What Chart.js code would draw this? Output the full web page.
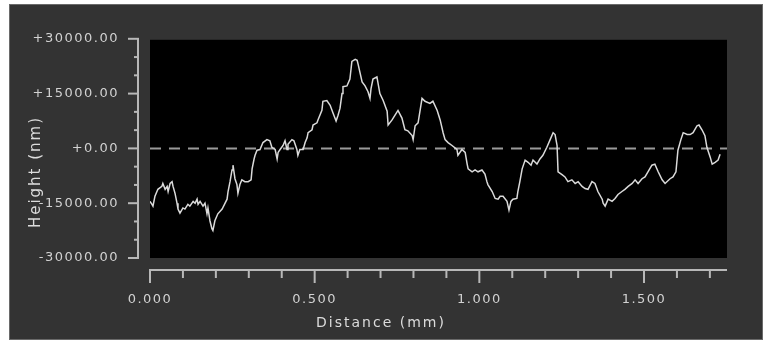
<!DOCTYPE html>
<html>
<head>
<meta charset="utf-8">
<script src="https://cdn.jsdelivr.net/npm/chart.js@4/dist/chart.umd.min.js"></script>
<style>
  html, body { margin: 0; padding: 0; background: #ffffff; }
  #wrap { position: relative; width: 769px; height: 342px; overflow: hidden; }
  #panel { position: absolute; left: 9px; top: 4px; width: 752px; height: 334px;
           background: #333333; border: 1px solid #6a6a6a; }
  canvas { position: absolute; left: 0; top: 0; }
</style>
</head>
<body>
<div id="wrap">
  <div id="panel"></div>
  <canvas id="c" width="769" height="342"></canvas>
</div>
<script>
// ---- data ----
const distanceMm = [
  0.000,0.006,0.009,0.015,0.024,0.036,0.039,0.046,0.052,0.055,0.061,0.067,0.070,0.076,0.082,0.085,0.091,0.100,0.106,0.115,
  0.121,0.131,0.137,0.143,0.146,0.152,0.161,0.167,0.173,0.176,0.182,0.188,0.191,0.197,0.206,0.219,0.228,0.234,0.237,0.243,
  0.249,0.252,0.258,0.264,0.267,0.273,0.279,0.288,0.298,0.307,0.310,0.316,0.319,0.325,0.334,0.343,0.355,0.364,0.370,0.380,
  0.386,0.389,0.395,0.404,0.410,0.416,0.419,0.431,0.437,0.446,0.449,0.455,0.465,0.471,0.477,0.480,0.492,0.495,0.507,0.510,
  0.522,0.525,0.537,0.547,0.556,0.565,0.571,0.577,0.583,0.586,0.598,0.607,0.613,0.623,0.629,0.632,0.644,0.653,0.662,0.668,
  0.671,0.677,0.689,0.698,0.708,0.720,0.723,0.735,0.744,0.753,0.765,0.774,0.783,0.796,0.799,0.805,0.814,0.826,0.835,0.850,
  0.859,0.872,0.881,0.890,0.896,0.905,0.917,0.932,0.935,0.947,0.957,0.963,0.966,0.978,0.987,0.996,1.008,1.017,1.023,1.026,
  1.039,1.048,1.057,1.063,1.072,1.084,1.090,1.096,1.102,1.114,1.117,1.123,1.130,1.139,1.148,1.157,1.163,1.175,1.184,1.193,
  1.205,1.215,1.224,1.230,1.236,1.239,1.251,1.260,1.269,1.281,1.291,1.300,1.312,1.321,1.330,1.342,1.351,1.360,1.373,1.376,
  1.382,1.391,1.403,1.412,1.421,1.433,1.442,1.452,1.464,1.473,1.482,1.494,1.503,1.512,1.524,1.533,1.543,1.555,1.564,1.579,
  1.588,1.597,1.603,1.612,1.619,1.631,1.640,1.649,1.661,1.667,1.676,1.685,1.691,1.701,1.707,1.716,1.725,1.731
];
const heightNm = [
  -14500,-15300,-15800,-13100,-11200,-10400,-9600,-11200,-10400,-11800,-9600,-9100,-10400,-12300,-15000,-16600,-17700,-16300,-16600,-15300,
  -15800,-14500,-15000,-13900,-15300,-14500,-15800,-15000,-17900,-16300,-19800,-22000,-22500,-19800,-17900,-16600,-15000,-13900,-11800,-9100,
  -5900,-4600,-8300,-9900,-12300,-9900,-8600,-9100,-9100,-8600,-5600,-2900,-1900,-500,-300,1600,2400,2100,300,-300,
  -2900,-1100,-300,800,2100,-300,1100,2400,2100,-300,-1900,-300,-300,1600,2900,4300,5100,6400,7000,7800,
  10400,12900,13100,11800,9600,7500,9100,11000,15000,16900,17100,19000,23800,24400,24100,23000,18200,17100,15500,13700,
  16300,19000,19600,15000,13100,10200,6400,7800,9100,10400,8300,5100,4800,3500,2400,6200,7000,13700,12900,12300,
  12900,10400,7800,4300,2400,1600,800,-300,-1900,-300,-1100,-4300,-5600,-6400,-5900,-6400,-5900,-7000,-9100,-9900,
  -11800,-13700,-13900,-13100,-13100,-14500,-16900,-14500,-13900,-13700,-11800,-9100,-5600,-3200,-3800,-4600,-3200,-4300,-2900,-1900,
  300,2400,4300,3800,800,-6400,-7200,-7800,-9100,-8600,-9600,-9100,-10400,-11000,-11200,-9100,-9600,-11800,-13900,-15000,
  -15800,-13900,-14500,-13700,-12600,-11800,-11200,-10400,-9600,-8600,-9600,-8300,-7800,-6400,-4600,-4300,-6400,-8600,-9600,-8300,
  -7800,-6400,-500,2400,4300,3800,3800,4300,6200,6400,5100,3500,300,-2400,-4300,-3800,-3200,-1600
];
const xMajorLabels = [0.0, 0.5, 1.0, 1.5];
const yMajorLabels = [30000, 15000, 0, -15000, -30000];
const xTitle = 'Distance (mm)';
const yTitle = 'Height (nm)';

const points = distanceMm.map((d, i) => ({ x: d, y: heightNm[i] }));

const TEXT = '#d2d2d2';
const AXIS = '#b8b8b8';
const FONT = '"DejaVu Sans", sans-serif';

function isMajor(v, step) { return Math.abs(v / step - Math.round(v / step)) < 1e-6; }

const decor = {
  id: 'decor',
  beforeDraw(chart) {
    const { ctx, chartArea: a } = chart;
    ctx.save();
    ctx.fillStyle = '#000000';
    ctx.fillRect(a.left, a.top + 1, a.right - a.left, a.bottom - a.top - 1);
    ctx.restore();
    ctx.letterSpacing = '1.5px';
  },
  beforeDatasetsDraw(chart) {
    const { ctx, chartArea: a, scales } = chart;
    const y0 = scales.y.getPixelForValue(0);
    ctx.save();
    ctx.letterSpacing = '0px';
    ctx.strokeStyle = '#9a9a9a';
    ctx.lineWidth = 2;
    ctx.setLineDash([11, 8]);
    ctx.beginPath();
    ctx.moveTo(a.left, y0);
    ctx.lineTo(a.right, y0);
    ctx.stroke();
    ctx.restore();
  },
  afterDraw(chart) {
    const { ctx, chartArea: a, scales } = chart;
    const xs = scales.x, ys = scales.y;
    ctx.save();
    ctx.strokeStyle = AXIS;
    ctx.lineWidth = 2;
    // y axis line
    const ax = a.left - 12;
    ctx.beginPath();
    ctx.moveTo(ax, ys.getPixelForValue(ys.max));
    ctx.lineTo(ax, ys.getPixelForValue(ys.min));
    ctx.stroke();
    ys.ticks.forEach(t => {
      const p = ys.getPixelForValue(t.value);
      const len = isMajor(t.value, 15000) ? 10 : 4;
      ctx.beginPath();
      ctx.moveTo(ax + 1, p);
      ctx.lineTo(ax - len, p);
      ctx.stroke();
    });
    // x axis line
    const ay = a.bottom + 12;
    ctx.beginPath();
    ctx.moveTo(xs.getPixelForValue(0), ay);
    ctx.lineTo(a.right, ay);
    ctx.stroke();
    xs.ticks.forEach(t => {
      const p = xs.getPixelForValue(t.value);
      const len = isMajor(t.value, 0.5) ? 13 : 8;
      ctx.beginPath();
      ctx.moveTo(p, ay - 1);
      ctx.lineTo(p, ay + len);
      ctx.stroke();
    });
    // axis titles
    ctx.fillStyle = '#dcdcdc';
    ctx.letterSpacing = '2px';
    ctx.font = '14px ' + FONT;
    ctx.textAlign = 'center';
    ctx.textBaseline = 'middle';
    ctx.fillText(xTitle, 381, 323);
    ctx.translate(36, 172);
    ctx.rotate(-Math.PI / 2);
    ctx.font = '15px ' + FONT;
    ctx.fillText(yTitle, 0, 0);
    ctx.restore();
    ctx.letterSpacing = '0px';
  }
};

new Chart(document.getElementById('c'), {
  type: 'scatter',
  data: {
    datasets: [{
      data: points,
      showLine: true,
      borderColor: '#dadada',
      borderWidth: 1.5,
      pointRadius: 0,
      tension: 0
    }]
  },
  options: {
    responsive: false,
    animation: false,
    events: [],
    layout: { padding: { left: 0, top: 34, right: 42, bottom: 0 } },
    plugins: { legend: { display: false }, tooltip: { enabled: false } },
    scales: {
      x: {
        type: 'linear',
        min: 0,
        max: 1.752,
        afterFit(s) { s.height = 84; },
        afterBuildTicks(s) {
          const t = [];
          for (let i = 0; i <= 17; i++) t.push({ value: i / 10 });
          s.ticks = t;
        },
        grid: { display: false, drawTicks: false },
        border: { display: false },
        ticks: {
          color: TEXT,
          font: { family: FONT, size: 13 },
          padding: 34,
          maxRotation: 0,
          autoSkip: false,
          callback(v) {
            return xMajorLabels.some(m => Math.abs(m - v) < 1e-6) ? Number(v).toFixed(3) : '';
          }
        }
      },
      y: {
        type: 'linear',
        min: -30000,
        max: 30000,
        afterFit(s) { s.width = 150; },
        afterBuildTicks(s) {
          const t = [];
          for (let v = -30000; v <= 30000; v += 5000) t.push({ value: v });
          s.ticks = t;
        },
        grid: { display: false, drawTicks: false },
        border: { display: false },
        ticks: {
          color: TEXT,
          font: { family: FONT, size: 13 },
          padding: 31,
          autoSkip: false,
          callback(v) {
            if (!yMajorLabels.includes(v)) return '';
            return (v >= 0 ? '+' : '-') + Math.abs(v).toFixed(2);
          }
        }
      }
    }
  },
  plugins: [decor]
});
</script>
</body>
</html>
